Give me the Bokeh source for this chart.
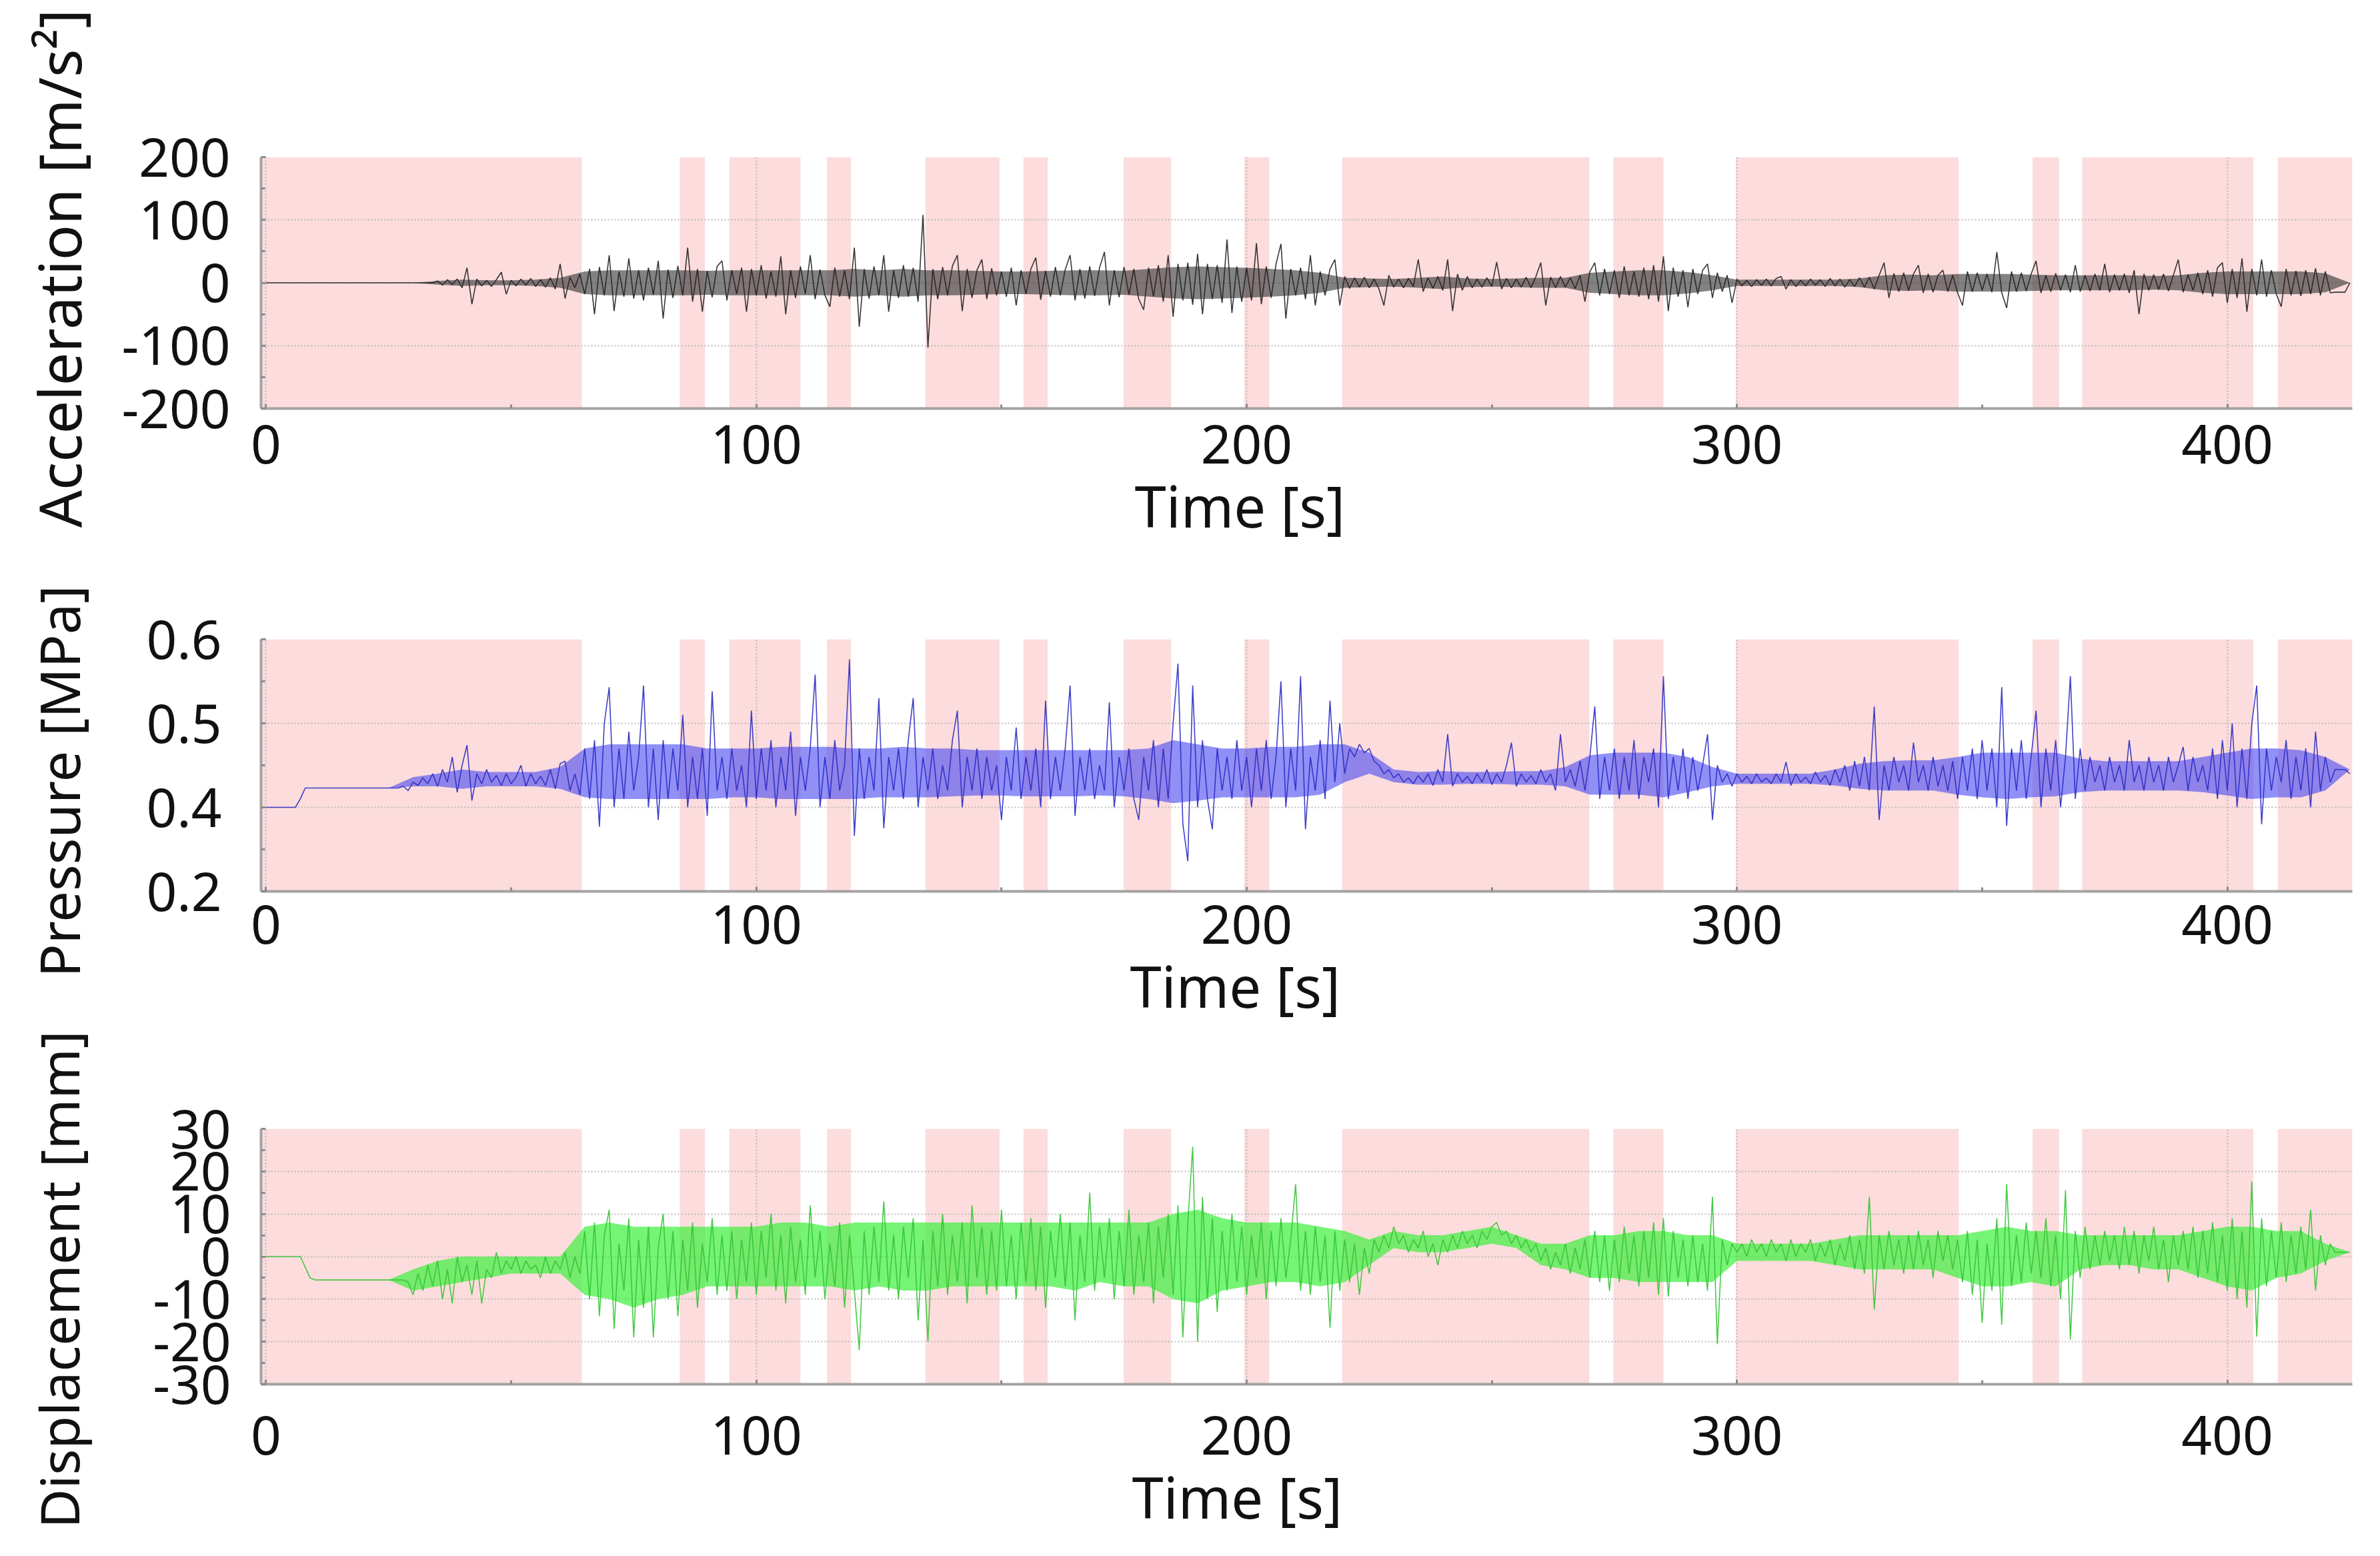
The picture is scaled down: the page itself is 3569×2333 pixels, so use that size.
import math
from bokeh.plotting import figure
from bokeh.layouts import column, row
from bokeh.models import BoxAnnotation, FixedTicker, Range1d, Title, Label
from bokeh.embed import file_html
from bokeh.resources import INLINE

FONT = "Noto Sans"
PINK = "#fcdcdc"

# shaded (pink) time windows [s]
band_start = [0, 84.4, 94.5, 114.4, 134.5, 154.5, 174.9, 199.5, 219.5, 274.8, 299.8, 360.3, 370.4, 410.3]
band_end = [64.4, 89.5, 109.0, 119.3, 149.6, 159.4, 184.6, 204.6, 269.9, 285.0, 345.2, 365.7, 405.3, 425.5]

x_ticks = [0, 100, 200, 300, 400]
x_minor = [50, 150, 250, 350]
acc_ticks = [-200, -100, 0, 100, 200]
acc_tick_labels = ["-200", "-100", "0", "100", "200"]
acc_minor = [-150, -50, 50, 150]
pres_ticks = [0.3, 0.4, 0.5, 0.6]
pres_tick_labels = ["0.2", "0.4", "0.5", "0.6"]
pres_minor = [0.35, 0.45, 0.55]
disp_ticks = [-30, -20, -10, 0, 10, 20, 30]
disp_tick_labels = ["-30", "-20", "-10", "0", "10", "20", "30"]
disp_minor = [-25, -15, -5, 5, 15, 25]

# acceleration [m/s^2], one reading per second, t = 0 .. 425 s
acc = [
    0, 0, 0, 0, 0, 0, 0, 0, 0, 0,
    0, 0, 0, 0, 0, 0, 0, 0, 0, 0,
    0, 0, 0, 0, 0, 0, 0, 0, 0, 0,
    0, 0, 0, 0, 0, 3, -4, 5, -3, 6,
    -8, 24, -34, 6, -5, 4, -6, 5, 17, -18,
    4, -5, 6, -4, 7, -6, 5, -7, 8, -10,
    30, -25, 9, -8, 14, -18, 22, -50, 25, -20,
    44, -45, 18, -22, 39, -25, 20, -28, 24, -19,
    35, -57, 21, -24, 27, -20, 56, -30, 22, -46,
    19, -23, 26, 35, -28, 20, -18, 24, -46, 22,
    -20, 28, -25, 18, -22, 42, -50, 20, -24, 26,
    -18, 44, -26, 21, -20, -38, 24, -22, 20, -26,
    56, -70, 22, -25, 26, -20, 44, -46, 20, -24,
    28, -22, 24, -30, 108, -103, 22, -26, 25, -20,
    27, 44, -45, 22, -24, 20, 37, -26, 23, -20,
    18, -22, 24, -36, 20, -18, 22, 40, -27, 19,
    -22, 25, -20, 21, 44, -28, 22, -25, 26, -21,
    24, 49, -36, 20, -23, 25, -19, 22, -26, -43,
    24, -22, 28, -30, 44, -54, 30, -28, 32, -35,
    46, -50, 30, -26, 28, -32, 69, -48, 26, -30,
    24, -28, 63, -34, 26, -24, 30, 62, -57, 22,
    -20, 24, -26, 44, -36, 18, -20, 22, 37, -36,
    10, -9, 8, -7, 9, -8, 6, -10, -36, 12,
    -7, 6, -8, 7, -6, 37, -14, 8, -9, 10,
    -12, 37, -45, 14, -12, 10, -8, 6, -7, 8,
    -6, 33, -10, 7, -8, 6, -7, 9, -8, 10,
    32, -36, 9, -8, 10, -7, 8, -9, 12, -30,
    18, 32, -20, 22, -18, 20, -24, 26, -20, 18,
    -22, 24, -26, 28, -30, 42, -45, 24, -22, 20,
    -39, 22, -18, 20, 30, -24, 16, -14, 12, -32,
    6, -5, 4, -6, 5, -4, 6, -5, 7, 10,
    -10, 5, -6, 4, -5, 6, -4, 5, -6, 7,
    -5, 6, -7, 5, -6, 8, -7, 9, -10, 12,
    32, -24, 15, -14, 16, -12, 14, 28, -16, 14,
    -15, 12, 20, -14, 12, -16, -36, 18, -14, 16,
    -12, 14, -15, 49, -16, -40, 18, -14, 16, -13,
    14, 35, -16, 12, -14, 15, -12, 13, -15, 28,
    -14, 12, -13, 14, -12, 30, -15, 13, -12, 14,
    -16, 20, -50, 14, -12, 13, -11, 14, -13, 12,
    37, -15, 13, -12, 16, -18, 20, -22, 24, 32,
    -32, 22, -24, 39, -46, 22, -20, 37, -22, 20,
    -18, -38, 22, -20, 19, -21, 20, -18, 23, -20,
    18, -16, -15, -15, -15, 0,
]

# pressure [MPa], one reading per second
pres = [
    0.40, 0.40, 0.40, 0.40, 0.40, 0.40, 0.40, 0.41, 0.423, 0.423,
    0.423, 0.423, 0.423, 0.423, 0.423, 0.423, 0.423, 0.423, 0.423, 0.423,
    0.423, 0.423, 0.423, 0.423, 0.423, 0.423, 0.423, 0.423, 0.425, 0.42,
    0.43, 0.426, 0.435, 0.428, 0.44, 0.425, 0.445, 0.43, 0.46, 0.418,
    0.45, 0.474, 0.408, 0.44, 0.428, 0.445, 0.43, 0.438, 0.426, 0.44,
    0.428, 0.436, 0.45, 0.425, 0.44, 0.428, 0.437, 0.426, 0.445, 0.422,
    0.452, 0.455, 0.42, 0.44, 0.415, 0.47, 0.41, 0.48, 0.377, 0.50,
    0.543, 0.40, 0.47, 0.41, 0.49, 0.42, 0.46, 0.545, 0.40, 0.47,
    0.385, 0.48, 0.41, 0.47, 0.42, 0.51, 0.40, 0.46, 0.41, 0.47,
    0.39, 0.538, 0.42, 0.46, 0.41, 0.47, 0.42, 0.45, 0.40, 0.515,
    0.41, 0.47, 0.42, 0.48, 0.40, 0.46, 0.42, 0.49, 0.39, 0.46,
    0.42, 0.47, 0.558, 0.40, 0.46, 0.41, 0.48, 0.42, 0.45, 0.576,
    0.366, 0.47, 0.41, 0.46, 0.42, 0.53, 0.375, 0.46, 0.42, 0.47,
    0.41, 0.48, 0.53, 0.40, 0.46, 0.42, 0.47, 0.41, 0.45, 0.42,
    0.48, 0.515, 0.40, 0.46, 0.42, 0.47, 0.41, 0.46, 0.42, 0.45,
    0.385, 0.46, 0.42, 0.495, 0.41, 0.46, 0.42, 0.47, 0.40, 0.527,
    0.41, 0.46, 0.42, 0.47, 0.545, 0.39, 0.46, 0.42, 0.47, 0.41,
    0.45, 0.42, 0.525, 0.40, 0.46, 0.42, 0.47, 0.41, 0.385, 0.46,
    0.42, 0.48, 0.40, 0.47, 0.41, 0.50, 0.571, 0.38, 0.336, 0.545,
    0.40, 0.48, 0.41, 0.374, 0.47, 0.42, 0.46, 0.41, 0.48, 0.42,
    0.46, 0.40, 0.47, 0.42, 0.48, 0.41, 0.46, 0.55, 0.40, 0.47,
    0.42, 0.556, 0.374, 0.46, 0.42, 0.48, 0.41, 0.527, 0.43, 0.50,
    0.44, 0.47, 0.46, 0.475, 0.465, 0.47, 0.455, 0.45, 0.44, 0.445,
    0.435, 0.44, 0.43, 0.435, 0.428, 0.438, 0.43, 0.44, 0.426, 0.445,
    0.43, 0.487, 0.425, 0.44, 0.43, 0.437, 0.428, 0.44, 0.43, 0.445,
    0.427, 0.44, 0.43, 0.45, 0.477, 0.425, 0.44, 0.43, 0.438, 0.428,
    0.445, 0.43, 0.44, 0.42, 0.487, 0.43, 0.445, 0.425, 0.455, 0.42,
    0.46, 0.52, 0.41, 0.46, 0.42, 0.47, 0.41, 0.46, 0.42, 0.48,
    0.41, 0.46, 0.43, 0.47, 0.40, 0.556, 0.41, 0.46, 0.42, 0.47,
    0.41, 0.46, 0.42, 0.45, 0.487, 0.385, 0.45, 0.43, 0.44, 0.425,
    0.44, 0.43, 0.437, 0.428, 0.44, 0.43, 0.435, 0.428, 0.44, 0.43,
    0.454, 0.426, 0.44, 0.43, 0.436, 0.428, 0.442, 0.43, 0.438, 0.426,
    0.445, 0.43, 0.45, 0.42, 0.455, 0.425, 0.46, 0.42, 0.52, 0.385,
    0.45, 0.42, 0.46, 0.43, 0.45, 0.42, 0.477, 0.43, 0.45, 0.42,
    0.46, 0.425, 0.45, 0.42, 0.455, 0.41, 0.46, 0.42, 0.47, 0.41,
    0.48, 0.42, 0.47, 0.40, 0.543, 0.378, 0.47, 0.42, 0.48, 0.41,
    0.46, 0.515, 0.40, 0.47, 0.42, 0.48, 0.40, 0.46, 0.556, 0.41,
    0.47, 0.42, 0.46, 0.43, 0.45, 0.42, 0.46, 0.43, 0.45, 0.42,
    0.48, 0.43, 0.45, 0.42, 0.46, 0.43, 0.45, 0.42, 0.46, 0.43,
    0.45, 0.472, 0.42, 0.46, 0.43, 0.45, 0.42, 0.47, 0.41, 0.48,
    0.42, 0.50, 0.40, 0.47, 0.41, 0.50, 0.545, 0.38, 0.47, 0.42,
    0.46, 0.43, 0.48, 0.41, 0.46, 0.42, 0.47, 0.40, 0.49, 0.42,
    0.46, 0.43, 0.445, 0.445, 0.445, 0.44,
]

# displacement [mm], one reading per second
disp = [
    0, 0, 0, 0, 0, 0, 0, 0, -2.5, -5,
    -5.5, -5.5, -5.5, -5.5, -5.5, -5.5, -5.5, -5.5, -5.5, -5.5,
    -5.5, -5.5, -5.5, -5.5, -5.5, -5.5, -5.5, -5.5, -5.5, -6,
    -9, -4, -8, -2, -7, -1, -10, -3, -11, 0,
    -6, -2, -9, -1, -11, -3, -5, 1, -4, -1,
    -3, 0, -4, -1, -3, -2, -5, 0, -4, -1,
    -3, 1, -5, 0, -4, 6, -10, 8, -14, 5,
    11, -17, 3, -8, 9, -19, 4, -12, 7, -19,
    2, 10, -10, 6, -14, 4, -8, 8, -12, 3,
    -6, 9, -9, 5, -8, 6, -10, 4, -6, 8,
    -9, 6, -5, 10, -8, 5, -11, 7, -6, 4,
    -9, 12, -5, 6, -10, 3, -7, 8, -12, 5,
    -8, -22, 6, -9, 7, -6, 13, -8, 5, -10,
    7, -5, 9, -15, 4, -20, 6, -7, 10, -9,
    5, -6, 8, -11, 12, -5, 7, -9, 6, -8,
    11, -7, 5, -10, 8, -6, 9, -8, 7, -12,
    6, -5, 10, -7, 8, -15, 5, -6, 15, -8,
    7, -5, 9, -10, 6, -7, 11, -9, 5, -6,
    8, -11, 7, -5, 10, -9, 12, -19, 8, 25.8,
    -20, 14, -10, 9, -13, 6, -8, 10, -6, 7,
    -9, 5, -5, 8, -10, 6, -7, 9, -5, 4,
    17, -8, 6, -9, 7, -6, 5, -16.7, 6, -8,
    4, -6, 3, -9, 2, -4, 4, 1, 5, 2,
    7, 3, 5, 1, 4, 2, 6, 0, 3, -2,
    4, 1, 5, 2, 6, 3, 5, 2, 6, 4,
    7, 8, 5, 6, 3, 5, 2, 4, 1, 3,
    -1, 2, -3, 1, -2, 3, -4, 2, -3, 4,
    -5, 6, -6, 5, -8, 4, -6, 7, -4, 5,
    -7, 6, -5, 8, -9, 9, -9.4, 6, -5, 4,
    -7, 5, -6, 3, -8, 14, -20.6, 4, -2, 3,
    1, 3, 0, 4, 1, 3, 0, 4, 1, 3,
    -1, 4, 0, 3, 1, 4, -1, 3, 0, 4,
    -2, 3, -1, 5, -3, 4, -4, 14, -12.5, 5,
    -3, 6, -2, 4, -4, 5, -3, 6, -2, 4,
    -5, 6, -1, 5, -3, 4, -6, 6, -9, 4,
    -15.6, 3, -8, 9, -16, 17, -7, 5, -6, 8,
    -4, 6, -5, 9, -7, 5, -10, 15.6, -19.5, 6,
    -5, 7, -3, 5, -2, 6, -1, 5, -3, 7,
    -2, 6, -4, 5, -1, 7, -3, 4, -6, 5,
    -2, 6, -3, 7, -5, 6, -4, 8, -6, 5,
    -8, 9, -10, 6, -12, 17.6, -18.8, 9, -7, 6,
    -5, 8, -6, 5, -4, 7, -3, 11, -8, 5,
    -2, 3, 1, 1, 1, 1,
]

# dense "core" of each trace, read every 5 s (t = 0, 5, ..., 425)
acc_core = [
    0, 0, 0, 0, 0, 0, 0, 3, 5, 4,
    4, 5, 8, 18, 20, 20, 20, 20, 19, 20,
    20, 20, 20, 20, 22, 20, 22, 20, 20, 19,
    18, 18, 19, 20, 20, 19, 22, 25, 26, 25,
    24, 22, 20, 16, 8, 7, 6, 8, 10, 7,
    6, 7, 8, 8, 16, 18, 20, 20, 17, 12,
    5, 5, 5, 5, 5, 7, 12, 13, 12, 14,
    14, 14, 13, 12, 12, 12, 12, 11, 12, 16,
    18, 18, 18, 18, 15, 0,
]
pres_core_hi = [
    .40, .40, .423, .423, .423, .423, .436, .44, .445, .442,
    .442, .442, .448, .47, .475, .475, .475, .475, .47, .47,
    .47, .472, .472, .472, .47, .47, .472, .47, .47, .468,
    .468, .468, .468, .468, .468, .468, .47, .48, .475, .47,
    .47, .472, .472, .475, .475, .465, .445, .442, .443, .442,
    .442, .443, .443, .448, .462, .465, .465, .465, .46, .448,
    .44, .44, .44, .44, .445, .452, .455, .456, .456, .46,
    .465, .465, .465, .465, .458, .455, .455, .455, .455, .46,
    .465, .47, .47, .468, .46, .445,
]
pres_core_lo = [
    .40, .40, .423, .423, .423, .423, .425, .425, .422, .425,
    .425, .425, .422, .412, .41, .41, .41, .41, .41, .412,
    .412, .41, .41, .41, .41, .412, .412, .412, .413, .414,
    .414, .413, .413, .413, .414, .413, .41, .405, .408, .412,
    .412, .412, .412, .415, .43, .44, .43, .427, .427, .428,
    .428, .427, .427, .425, .415, .415, .415, .412, .418, .425,
    .428, .428, .428, .428, .426, .422, .42, .42, .42, .415,
    .412, .41, .412, .413, .418, .42, .42, .42, .42, .418,
    .414, .41, .412, .412, .42, .445,
]
disp_core_hi = [
    0, 0, -5.5, -5.5, -5.5, -5.5, -3, -1, 0, 0,
    0, 0, 0, 7, 8, 7, 7, 7, 7, 7,
    7, 8, 8, 7, 8, 8, 8, 8, 8, 8,
    8, 8, 8, 8, 8, 8, 8, 10, 11, 9,
    8, 8, 8, 7, 6, 4, 6, 5, 5, 6,
    7, 5, 3, 3, 5, 5, 6, 6, 5, 5,
    3, 3, 3, 3, 4, 5, 5, 5, 5, 5,
    6, 7, 6, 6, 5, 5, 5, 5, 5, 6,
    7, 7, 6, 6, 3, 1,
]
disp_core_lo = [
    0, 0, -5.5, -5.5, -5.5, -5.5, -8, -7, -6, -5,
    -4, -4, -4, -9, -10, -12, -10, -9, -7, -7,
    -7, -7, -7, -7, -8, -7, -8, -8, -7, -7,
    -7, -7, -7, -8, -6, -7, -7, -10, -11, -8,
    -7, -6, -6, -7, -6, -2, 2, 1, 1, 2,
    3, 2, -2, -3, -5, -5, -6, -6, -6, -6,
    -1, -1, -1, -1, -2, -3, -3, -3, -3, -5,
    -7, -7, -6, -7, -3, -2, -2, -3, -3, -5,
    -7, -8, -5, -4, -1, 1,
]

t_sec = list(range(len(acc)))
core_t = list(range(0, 426, 5))

PAGE_W = 3569
PAGE_H = 2333
LAB_W = 160                 # strip on the left that carries the y-axis titles
MAIN_W = PAGE_W - LAB_W
FRAME_W = 3148              # px for -1 .. 425.5 s


def make_panel(height, top, bottom, frame_left, y_lo, y_hi, ticks, minor, labels,
               xlab_standoff, ytick_standoff, time_offset):
    left = frame_left - LAB_W
    p = figure(width=MAIN_W, height=height, x_range=Range1d(-1, 425.5),
               y_range=Range1d(y_lo, y_hi), output_backend="svg",
               toolbar_location=None, min_border_top=top,
               min_border_bottom=bottom, min_border_left=left,
               min_border_right=MAIN_W - left - FRAME_W)
    p.outline_line_color = None
    p.background_fill_color = "white"
    p.border_fill_color = "white"
    for s, e in zip(band_start, band_end):
        p.add_layout(BoxAnnotation(left=(s if s > 0 else None), right=e,
                                   fill_color=PINK, fill_alpha=1.0,
                                   line_color=None, level="image"))
    for ax, tk, mn in ((p.xaxis[0], x_ticks, x_minor), (p.yaxis[0], ticks, minor)):
        ax.ticker = FixedTicker(ticks=tk, minor_ticks=mn)
        ax.major_label_text_font = FONT
        ax.major_label_text_font_size = "80px"
        ax.major_label_text_color = "#111111"
        ax.axis_line_color = "#a3a3a3"
        ax.axis_line_width = 4
        ax.major_tick_line_color = "#8c8c8c"
        ax.major_tick_line_width = 3
        ax.major_tick_in = 7
        ax.major_tick_out = 0
        ax.minor_tick_line_color = "#8c8c8c"
        ax.minor_tick_line_width = 3
        ax.minor_tick_in = 6
        ax.minor_tick_out = 0
    p.xaxis[0].major_label_standoff = xlab_standoff
    p.yaxis[0].major_label_standoff = ytick_standoff
    p.yaxis[0].major_label_overrides = dict(zip(ticks, labels))
    for g in (p.xgrid[0], p.ygrid[0]):
        g.grid_line_color = "#b5b5b5"
        g.grid_line_width = 2
        g.grid_line_dash = "2 3"
        g.grid_line_alpha = 0.9
    p.add_layout(Title(text="Time [s]", align="left", offset=time_offset,
                       standoff=0, text_font=FONT,
                       text_font_size="85px", text_font_style="normal",
                       text_color="#111111"), "below")
    return p


# panel 1: acceleration   (canvas rows 0 .. 846)
p1 = make_panel(846, 235, 234, 379, -200, 200, acc_ticks, acc_minor, acc_tick_labels,
                24, 46, 1310)
p1.varea(x=core_t, y1=[-v for v in acc_core], y2=acc_core,
         fill_color="#2e2e2e", fill_alpha=0.6)
p1.line(t_sec, acc, line_color="#222222", line_width=1.6, line_alpha=0.9)

# panel 2: pressure   (canvas rows 846 .. 1540)
p2 = make_panel(694, 112, 204, 391, 0.3, 0.6, pres_ticks, pres_minor,
                pres_tick_labels, 20, 59, 1303)
p2.varea(x=core_t, y1=pres_core_lo, y2=pres_core_hi,
         fill_color="#4646f2", fill_alpha=0.6)
p2.line(t_sec, pres, line_color="#2c2cc4", line_width=1.6, line_alpha=0.9)

# panel 3: displacement   (canvas rows 1540 .. 2333)
p3 = make_panel(793, 152, 258, 381, -30, 30, disp_ticks, disp_minor, disp_tick_labels,
                47, 45, 1306)
p3.varea(x=core_t, y1=disp_core_lo, y2=disp_core_hi,
         fill_color="#3cf03c", fill_alpha=0.7)
p3.line(t_sec, disp, line_color="#34c434", line_width=1.6, line_alpha=0.9)

# left strip with the rotated y-axis titles (pixel coordinates, y downwards)
lab = figure(width=LAB_W, height=PAGE_H, x_range=Range1d(0, LAB_W),
             y_range=Range1d(PAGE_H, 0), x_axis_type=None, y_axis_type=None,
             output_backend="svg", toolbar_location=None, min_border_left=0,
             min_border_right=0, min_border_top=0, min_border_bottom=0)
lab.outline_line_color = None
lab.background_fill_color = "white"
lab.border_fill_color = "white"
for txt, cy, size in (("Acceleration [m/s²]", 402, "88px"),
                      ("Pressure [MPa]", 1171, "83px"),
                      ("Displacement [mm]", 1918, "81px")):
    lab.add_layout(Label(x=87, y=cy, text=txt, angle=math.pi / 2,
                         text_align="center", text_baseline="alphabetic",
                         text_font=FONT, text_font_size=size,
                         text_color="#111111"))

layout = row(lab, column(p1, p2, p3, spacing=0), spacing=0)
open("out.html", "w").write(file_html(layout, INLINE))
